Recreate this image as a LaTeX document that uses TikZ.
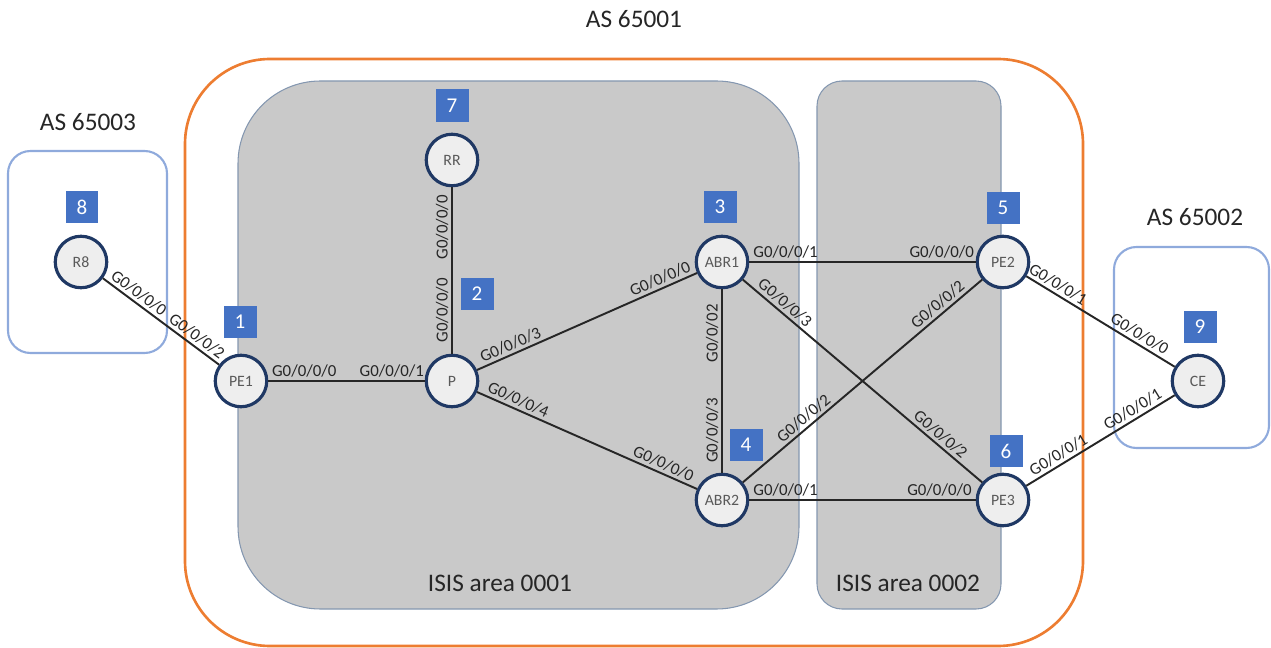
\documentclass[tikz,border=0pt]{standalone}
\usepackage{fontspec}
\setmainfont{Carlito}
\definecolor{asorange}{HTML}{ED7D31}
\definecolor{areagray}{HTML}{C9C9C9}
\definecolor{areaedge}{HTML}{8497B0}
\definecolor{asblue}{HTML}{8FAADC}
\definecolor{routerblue}{HTML}{1F3864}
\definecolor{routerfill}{HTML}{EEEEEE}
\definecolor{routertext}{HTML}{595959}
\definecolor{tagblue}{HTML}{4472C4}
\definecolor{porttext}{HTML}{262626}
\begin{document}
\begin{tikzpicture}[x=0.02cm, y=-0.02cm,
    router/.style={circle, draw=routerblue, line width=1.8pt, fill=routerfill, minimum size=1.03cm, inner sep=0pt, text=routertext, font=\fontsize{9}{10}\selectfont},
    tag/.style={fill=tagblue, text=white, minimum size=0.66cm, inner sep=0pt, font=\fontsize{12}{14}\selectfont},
    port/.style={sloped, above, inner sep=1.5pt, text=porttext, font=\fontsize{9.6}{11}\selectfont},
    link/.style={line width=1.1pt, draw=black!85},
    title/.style={text=black!85, font=\fontsize{14.4}{17}\selectfont}]

    \useasboundingbox (0,0) rectangle (1271,648);

    % AS and ISIS areas
    \draw[asorange, line width=1.5pt, rounded corners=1.7cm] (185,59) rectangle (1083,646);
    \draw[areaedge, line width=0.6pt, fill=areagray, rounded corners=1.65cm] (238,81) rectangle (799,609);
    \draw[areaedge, line width=0.6pt, fill=areagray, rounded corners=0.5cm] (817,81) rectangle (1001,609);
    \draw[asblue, line width=1.2pt, rounded corners=0.45cm] (8,151) rectangle (167,353);
    \draw[asblue, line width=1.2pt, rounded corners=0.45cm] (1114,247) rectangle (1269,448);

    \node[title] (as65001) at (634,19) {AS 65001};
    \node[title] (as65003) at (88,122) {AS 65003};
    \node[title] (as65002) at (1195,217) {AS 65002};
    \node[title] (area1) at (500,583) {ISIS area 0001};
    \node[title] (area2) at (908,583) {ISIS area 0002};

    % routers
    \node[router] (R8) at (81,262) {R8};
    \node[router] (PE1) at (241,381) {PE1};
    \node[router] (P) at (452,381) {P};
    \node[router] (RR) at (452,160) {RR};
    \node[router] (ABR1) at (722,262) {ABR1};
    \node[router] (ABR2) at (722,500) {ABR2};
    \node[router] (PE2) at (1003,262) {PE2};
    \node[router] (PE3) at (1003,500) {PE3};
    \node[router] (CE) at (1198,381) {CE};

    % numbers
    \node[tag] (n8) at (82,207) {8};
    \node[tag] (n1) at (240,322) {1};
    \node[tag] (n7) at (452,106) {7};
    \node[tag] (n2) at (477,294) {2};
    \node[tag] (n3) at (720,207) {3};
    \node[tag] (n4) at (746,445) {4};
    \node[tag] (n5) at (1003,208) {5};
    \node[tag] (n6) at (1006,451) {6};
    \node[tag] (n9) at (1200,327) {9};

    % links
    \draw[link] (R8) -- node[port, pos=0.26] {G0/0/0/0} node[port, pos=0.76] {G0/0/0/2} (PE1);
    \draw[link] (PE1) -- node[port, pos=0.23] {G0/0/0/0} node[port, pos=0.79] {G0/0/0/1} (P);
    \draw[link] (P) -- node[port, pos=0.26] {G0/0/0/0} node[port, pos=0.76] {G0/0/0/0} (RR);
    \draw[link] (P) -- node[port, pos=0.17] {G0/0/0/3} node[port, pos=0.85] {G0/0/0/0} (ABR1);
    \draw[link] (P) -- node[port, pos=0.17] {G0/0/0/4} node[port, pos=0.83] {G0/0/0/0} (ABR2);
    \draw[link] (ABR2) -- node[port, pos=0.23] {G0/0/0/3} node[port, pos=0.76] {G0/0/02} (ABR1);
    \draw[link] (ABR1) -- node[port, pos=0.16] {G0/0/0/1} node[port, pos=0.85] {G0/0/0/0} (PE2);
    \draw[link] (ABR1) -- node[port, pos=0.15] {G0/0/0/3} node[port, pos=0.80] {G0/0/0/2} (PE3);
    \draw[link] (ABR2) -- node[port, pos=0.28] {G0/0/0/2} node[port, pos=0.84] {G0/0/0/2} (PE2);
    \draw[link] (ABR2) -- node[port, pos=0.16] {G0/0/0/1} node[port, pos=0.84] {G0/0/0/0} (PE3);
    \draw[link] (PE2) -- node[port, pos=0.18] {G0/0/0/1} node[port, pos=0.73] {G0/0/0/0} (CE);
    \draw[link] (PE3) -- node[port, pos=0.25] {G0/0/0/1} node[port, pos=0.75] {G0/0/0/1} (CE);
\end{tikzpicture}
\end{document}
